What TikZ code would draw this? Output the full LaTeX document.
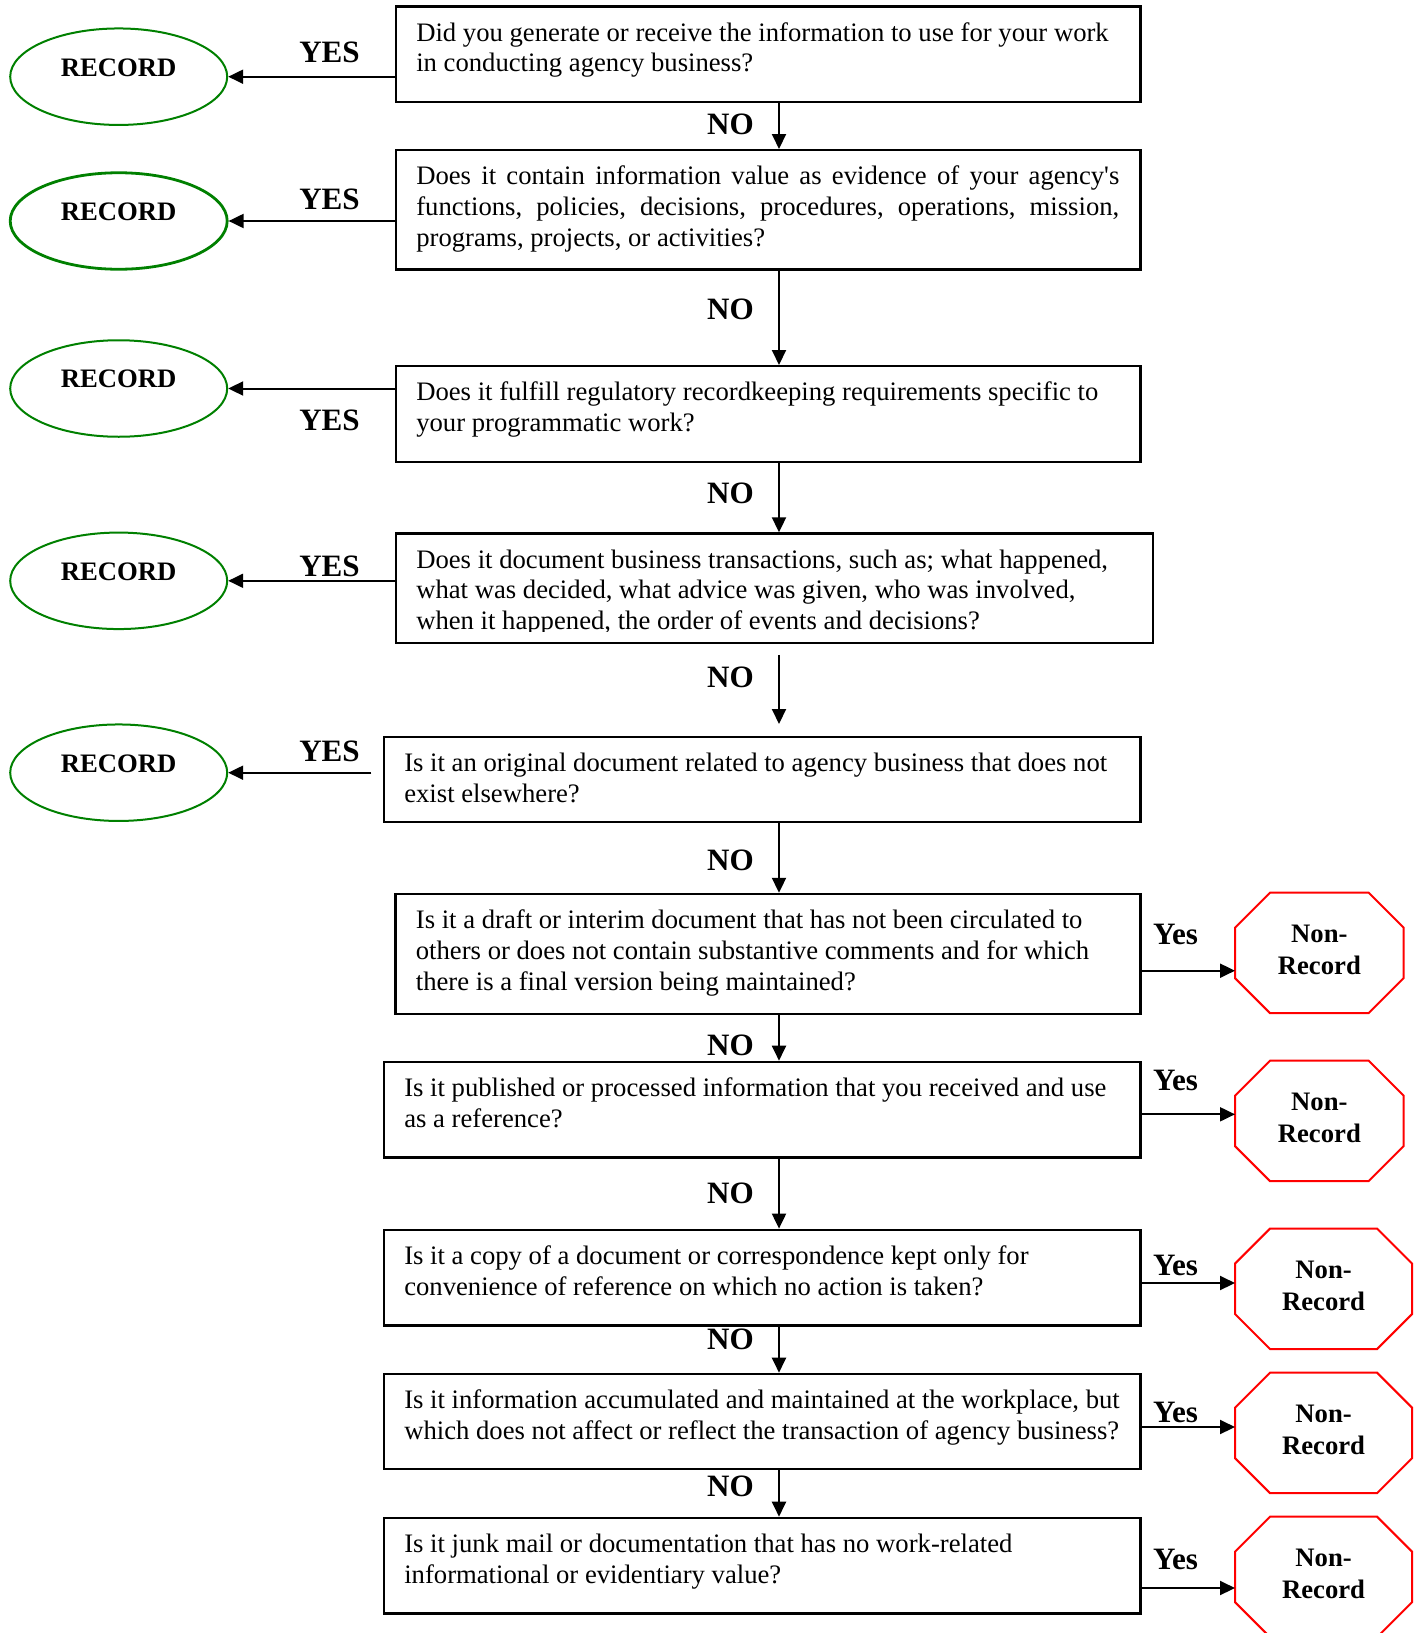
\documentclass[tikz,border=0pt]{standalone}
\usepackage{fontspec}
\setmainfont{Liberation Serif}
\usetikzlibrary{arrows.meta,shapes.geometric}
\definecolor{recgreen}{RGB}{0,128,0}
\definecolor{nonred}{RGB}{255,0,0}
\newcommand\recfont{\fontsize{26.67pt}{31.3pt}\selectfont\bfseries}
\newcommand\labfont{\fontsize{31.1pt}{36pt}\selectfont\bfseries}
\newcommand\straightapos{{\addfontfeatures{Ligatures=TeXOff}'}}
\newcommand\qbody[3]{\parbox[c][#2][t]{#1}{\fontsize{26.67pt}{30.7pt}\selectfont
  \setlength\leftskip{20.5pt}\setlength\rightskip{0pt plus 1fil}%
  \setlength\parfillskip{0pt plus 1fil}\rule{0pt}{34.7pt}#3}}
\newcommand\octbody[1]{\parbox[c][120pt][t]{#1}{\recfont\centering\rule{0pt}{50pt}Non-\\Record}}
\begin{document}
\begin{tikzpicture}[x=1pt,y=-1pt,
  qbox/.style={draw, line width=2.2pt, inner sep=0pt, anchor=north west},
  recell/.style={ellipse, draw=recgreen, line width=2pt, minimum width=217pt,
    minimum height=96.5pt, inner sep=0pt, text height=10pt, text depth=11.4pt, font=\recfont},
  octbox/.style={rectangle, inner sep=0pt, anchor=north west},
  octline/.style={draw=nonred, line width=2pt},
  lab/.style={inner sep=0pt, anchor=base, font=\labfont},
  arr/.style={line width=2pt, -{Triangle[length=15pt,width=14pt]}},
]
\useasboundingbox (0,0) rectangle (1415,1633);
\coordinate (spine) at (779,0);

% question boxes
\node[qbox] (q1) at (394.7,5.3) {\qbody{744.6pt}{95.4pt}{Did you generate or receive the information to use for your work\\in conducting agency business?}};
\node[qbox] (q2) at (394.7,149) {\qbody{744.6pt}{119.3pt}{\makebox[703pt][s]{Does it contain information value as evidence of your agency\straightapos s}\\\makebox[703pt][s]{functions, policies, decisions, procedures, operations, mission,}\\programs, projects, or activities?}};
\node[qbox] (q3) at (394.7,365) {\qbody{744.6pt}{95.7pt}{Does it fulfill regulatory recordkeeping requirements specific to\\your programmatic work?}};
\node[qbox, minimum width=757pt, minimum height=109.4pt] (q4) at (394.7,532.3) {};
\begin{scope}
\clip (q4.north west) rectangle ([yshift=12.3pt]q4.south east);
\node[inner sep=0pt] (q4t) at (q4.center) {\qbody{757pt}{109.4pt}{Does it document business transactions, such as; what happened,\\what was decided, what advice was given, who was involved,\\when it happened, the order of events and decisions?}};
\end{scope}
\node[qbox] (q5) at (382.7,735.7) {\qbody{756.6pt}{85.3pt}{Is it an original document related to agency business that does not\\exist elsewhere?}};
\node[qbox] (q6) at (394.3,892.8) {\qbody{745pt}{120pt}{Is it a draft or interim document that has not been circulated to\\others or does not contain substantive comments and for which\\there is a final version being maintained?}};
\node[qbox] (q7) at (382.7,1060.7) {\qbody{756.6pt}{95.7pt}{Is it published or processed information that you received and use\\as a reference?}};
\node[qbox] (q8) at (382.7,1228.6) {\qbody{756.6pt}{95.7pt}{Is it a copy of a document or correspondence kept only for\\convenience of reference on which no action is taken?}};
\node[qbox] (q9) at (382.7,1372.7) {\qbody{756.6pt}{95.3pt}{Is it information accumulated and maintained at the workplace, but\\which does not affect or reflect the transaction of agency business?}};
\node[qbox] (q10) at (382.7,1516.7) {\qbody{756.6pt}{95.6pt}{Is it junk mail or documentation that has no work-related\\informational or evidentiary value?}};

% record ellipses
\node[recell] (r1) at (118.7,76.7) {RECORD};
\node[recell, line width=2.8pt] (r2) at (118.7,221) {RECORD};
\node[recell] (r3) at (118.7,388.5) {RECORD};
\node[recell] (r4) at (118.7,580.8) {RECORD};
\node[recell] (r5) at (118.7,772.7) {RECORD};

% non-record octagons
\node[octbox] (n1) at (1235,892.7) {\octbody{168.3pt}};
\node[octbox] (n2) at (1235,1060.7) {\octbody{168.3pt}};
\node[octbox] (n3) at (1235,1228.6) {\octbody{176.7pt}};
\node[octbox] (n4) at (1235,1372.7) {\octbody{176.7pt}};
\node[octbox] (n5) at (1235,1516.7) {\octbody{176.7pt}};
\foreach \n in {n1,n2,n3,n4,n5}{
  \draw[octline] ([xshift=35pt]\n.north west) -- ([xshift=-35pt]\n.north east)
    -- ([yshift=-35pt]\n.north east) -- ([yshift=35pt]\n.south east)
    -- ([xshift=-35pt]\n.south east) -- ([xshift=35pt]\n.south west)
    -- ([yshift=35pt]\n.south west) -- ([yshift=-35pt]\n.north west) -- cycle;
}

% YES labels (left)
\node[lab] (yes1) at (329.5,62.3) {YES};
\node[lab] (yes2) at (329.5,209.3) {YES};
\node[lab] (yes3) at (329.5,430) {YES};
\node[lab] (yes4) at (329.5,576.7) {YES};
\node[lab] (yes5) at (329.5,761.7) {YES};
% NO labels
\node[lab] (no1) at (730.5,134.7) {NO};
\node[lab] (no2) at (730.5,319.3) {NO};
\node[lab] (no3) at (730.5,503.3) {NO};
\node[lab] (no4) at (730.5,687.6) {NO};
\node[lab] (no5) at (730.5,870.7) {NO};
\node[lab] (no6) at (730.5,1055) {NO};
\node[lab] (no7) at (730.5,1203) {NO};
\node[lab] (no8) at (730.5,1349.8) {NO};
\node[lab] (no9) at (730.5,1496.6) {NO};
% Yes labels (right)
\node[lab] (ys1) at (1175.5,944) {Yes};
\node[lab] (ys2) at (1175.5,1090.7) {Yes};
\node[lab] (ys3) at (1175.5,1275.3) {Yes};
\node[lab] (ys4) at (1175.5,1422.7) {Yes};
\node[lab] (ys5) at (1175.5,1569) {Yes};

% YES arrows to records
\draw[arr] (q1.west |- r1) -- (r1.east);
\draw[arr] (q2.west |- r2) -- (r2.east);
\draw[arr] (q3.west |- r3) -- (r3.east);
\draw[arr] (q4.west |- r4) -- (r4.east);
\coordinate (s5) at (q5.west |- r5);
\draw[arr] ([xshift=-11.3pt]s5) -- (r5.east);

% NO arrows
\draw[arr] (q1.south -| spine) -- (q2.north -| spine);
\draw[arr] (q2.south -| spine) -- (q3.north -| spine);
\draw[arr] (q3.south -| spine) -- (q4.north -| spine);
\coordinate (t4) at (q4.south -| spine);
\coordinate (b5) at (q5.north -| spine);
\draw[arr] ([yshift=-11pt]t4) -- ([yshift=11.7pt]b5);
\draw[arr] (q5.south -| spine) -- (q6.north -| spine);
\draw[arr] (q6.south -| spine) -- (q7.north -| spine);
\draw[arr] (q7.south -| spine) -- (q8.north -| spine);
\draw[arr] (q8.south -| spine) -- (q9.north -| spine);
\draw[arr] (q9.south -| spine) -- (q10.north -| spine);

% Yes arrows to non-records
\coordinate (e1) at ([yshift=-78pt]n1.north west);
\coordinate (e2) at ([yshift=-53.6pt]n2.north west);
\coordinate (e3) at ([yshift=-54.4pt]n3.north west);
\coordinate (e4) at ([yshift=-54.3pt]n4.north west);
\coordinate (e5) at ([yshift=-71.3pt]n5.north west);
\draw[arr] (q6.east |- e1) -- (e1);
\draw[arr] (q7.east |- e2) -- (e2);
\draw[arr] (q8.east |- e3) -- (e3);
\draw[arr] (q9.east |- e4) -- (e4);
\draw[arr] (q10.east |- e5) -- (e5);
\end{tikzpicture}
\end{document}
